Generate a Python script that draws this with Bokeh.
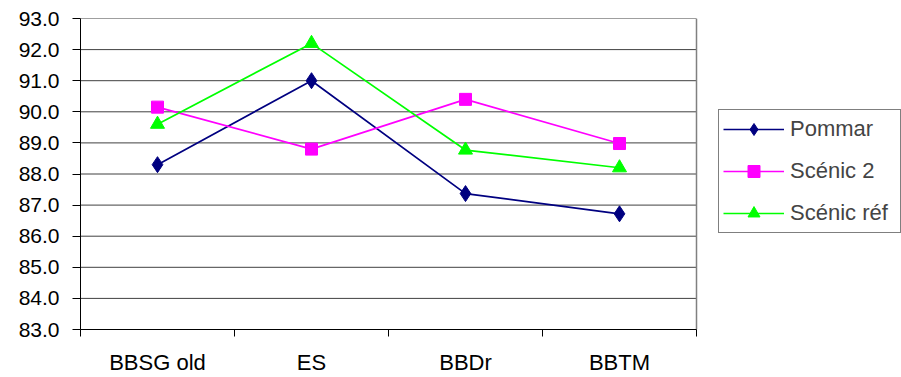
from bokeh.plotting import figure
from bokeh.models import Range1d, FixedTicker, Legend, LegendItem
from bokeh.embed import file_html
from bokeh.resources import INLINE

categories = ["BBSG old", "ES", "BBDr", "BBTM"]
pommar = [88.3, 91.0, 87.37, 86.72]
scenic2 = [90.15, 88.8, 90.4, 88.98]
scenic_ref = [89.6, 92.2, 88.77, 88.2]
y_ticks = [83, 84, 85, 86, 87, 88, 89, 90, 91, 92, 93]

n = len(categories)
xs = [i + 0.5 for i in range(n)]

# plot area spans the whole width; the category zone covers 616 of its 821 px,
# the rest hosts the legend
x_end = n * 821 / 616

p = figure(width=901, height=377, output_backend="svg", toolbar_location=None,
           x_range=Range1d(0, x_end), y_range=Range1d(83, 93),
           min_border_left=80, min_border_right=0, min_border_top=18, min_border_bottom=46)
p.background_fill_color = "white"
p.border_fill_color = "white"
p.outline_line_color = None

FONT = "Liberation Sans"

# gridlines and right border limited to the category zone
p.xgrid.grid_line_color = None
p.ygrid.grid_line_color = None
p.segment(x0=[0] * len(y_ticks), x1=[n] * len(y_ticks), y0=y_ticks, y1=y_ticks,
          line_color="#404040", line_width=1)
p.segment(x0=[n], x1=[n], y0=[y_ticks[0]], y1=[y_ticks[-1]],
          line_color="#808080", line_width=1.5)

# x axis
p.xaxis.bounds = (0, n)
p.xaxis.ticker = FixedTicker(ticks=xs, minor_ticks=list(range(n + 1)))
p.xaxis.major_label_overrides = {x: c for x, c in zip(xs, categories)}
p.xaxis.major_tick_line_color = None
p.xaxis.major_tick_out = 0
p.xaxis.major_tick_in = 0
p.xaxis.minor_tick_out = 7
p.xaxis.minor_tick_in = 0
p.xaxis.minor_tick_line_color = "black"
p.xaxis.axis_line_color = "black"
p.xaxis.major_label_standoff = 13
p.xaxis.major_label_text_font = FONT
p.xaxis.major_label_text_font_size = "22px"
p.xaxis.major_label_text_color = "black"

# y axis
p.yaxis.ticker = FixedTicker(ticks=y_ticks, minor_ticks=[])
p.yaxis.major_label_overrides = {t: f"{t:.1f}" for t in y_ticks}
p.yaxis.major_tick_out = 8
p.yaxis.major_tick_in = 0
p.yaxis.major_tick_line_color = "black"
p.yaxis.axis_line_color = "black"
p.yaxis.major_label_standoff = 13
p.yaxis.major_label_text_font = FONT
p.yaxis.major_label_text_font_size = "21px"
p.yaxis.major_label_text_color = "black"

series = [
    ("Pommar", pommar, "#000080", "diamond", 16),
    ("Scénic 2", scenic2, "#FF00FF", "square", 12),
    ("Scénic réf", scenic_ref, "#00FF00", "triangle", 14),
]
items = []
for name, vals, col, mk, sz in series:
    l = p.line(xs, vals, line_color=col, line_width=1.7)
    s = p.scatter(xs, vals, marker=mk, size=sz, fill_color=col, line_color=col)
    items.append(LegendItem(label=name, renderers=[l, s]))

legend = Legend(items=items, location=(638, 96), orientation="vertical")
legend.border_line_color = "black"
legend.border_line_width = 1
legend.background_fill_alpha = 1
legend.label_text_font = FONT
legend.label_text_font_size = "22px"
legend.glyph_width = 61
legend.glyph_height = 30
legend.spacing = 12
legend.padding = 4
legend.margin = 0
legend.label_standoff = 6
legend.label_width = 106
p.add_layout(legend, "center")

open("out.html", "w").write(file_html(p, INLINE))
